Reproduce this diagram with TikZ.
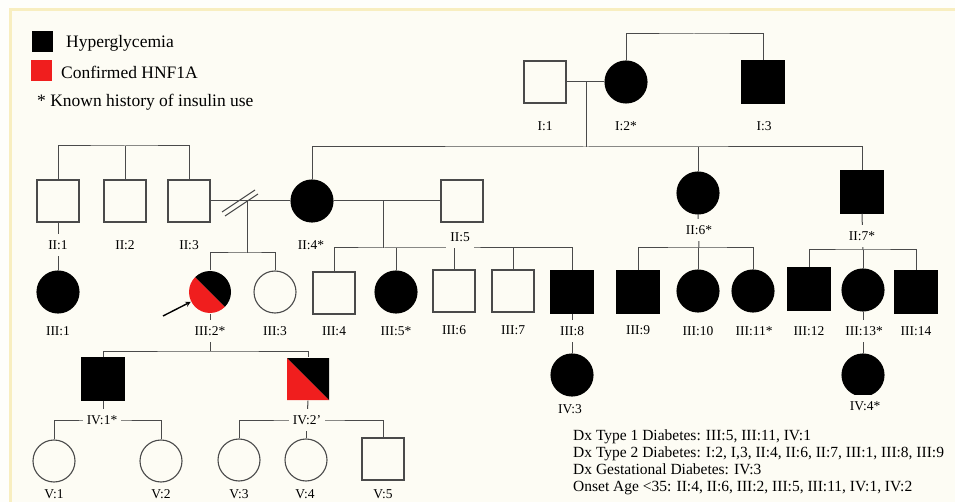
\documentclass[tikz,border=0pt]{standalone}
\usepackage{fontspec}
\setmainfont{Liberation Serif}
\usetikzlibrary{arrows, positioning, calc}
\definecolor{paper}{HTML}{FDFCF4}
\definecolor{rim}{HTML}{F8EEC0}
\definecolor{hnfred}{HTML}{F01E1E}
\definecolor{pedline}{HTML}{4A4A4A}

\begin{document}
\begin{tikzpicture}[x=1pt, y=-1pt,
        ind/.style={draw=pedline, line width=1.1pt, inner sep=0pt, minimum size=42pt, fill=paper},
        male/.style={ind, rectangle},
        female/.style={ind, circle},
        aff/.style={fill=black, draw=black},
        hnf/.style={draw=none, path picture={
            \fill[hnfred] (path picture bounding box.north west) -- (path picture bounding box.south west) -- (path picture bounding box.south east) -- cycle;
            \fill[black] (path picture bounding box.north west) -- (path picture bounding box.north east) -- (path picture bounding box.south east) -- cycle;}},
        link/.style={draw=pedline, line width=1pt},
        lab/.style={fill=paper, inner xsep=4pt, inner ysep=6pt, font=\fontsize{13.5}{16}\selectfont},
        legtext/.style={anchor=west, inner sep=0pt, font=\fontsize{17.5}{20}\selectfont}
    ]
        \useasboundingbox (0,0) rectangle (955,502);
        \clip (0,0) rectangle (955,502);
        \fill[white!60!paper] (0,0) rectangle (955,502);
        \fill[paper] (10,10) rectangle (955,502);
        \draw[rim, line width=3pt] (10,502) -- (10,10) -- (955,10);

        % key
        \node[minimum size=21pt, inner sep=0pt, fill=black] (keyhyp) at (42,42) {};
        \node[legtext] (txthyp) at (66,43) {Hyperglycemia};
        \node[minimum size=21pt, inner sep=0pt, fill=hnfred] (keyhnf) at (41,71) {};
        \node[legtext] (txthnf) at (61,72) {Confirmed HNF1A};
        \node[legtext] (txtins) at (37,102) {* Known history of insulin use};

        % generation I
        \node[male] (i1) at (545,82) {};
        \node[female, aff] (i2) at (626,82) {};
        \node[male, aff] (i3) at (763,82) {};

        % generation II
        \node[male] (ii1) at (58,201) {};
        \node[male] (ii2) at (125,201) {};
        \node[male] (ii3) at (189,201) {};
        \node[female, aff] (ii4) at (312,201) {};
        \node[male] (ii5) at (462,201) {};
        \node[female, aff] (ii6) at (698,193) {};
        \node[male, aff] (ii7) at (862,192) {};

        % generation III
        \node[female, aff] (iii1) at (58,292) {};
        \node[female, hnf] (iii2) at (210,292) {};
        \node[female] (iii3) at (275,292) {};
        \node[male] (iii4) at (334,293) {};
        \node[female, aff] (iii5) at (396,292) {};
        \node[male] (iii6) at (454,291) {};
        \node[male] (iii7) at (513,291) {};
        \node[male, aff] (iii8) at (572,292) {};
        \node[male, aff] (iii9) at (638,292) {};
        \node[female, aff] (iii10) at (698,291) {};
        \node[female, aff] (iii11) at (753,291) {};
        \node[male, aff] (iii12) at (809,289) {};
        \node[female, aff] (iii13) at (863,290) {};
        \node[male, aff] (iii14) at (916,292) {};

        % generation IV
        \node[male, aff] (iv1) at (103,379) {};
        \node[male, hnf] (iv2) at (308,379) {};
        \node[female, aff] (iv3) at (572,375) {};
        \node[female, aff] (iv4) at (863,375) {};

        % generation V
        \node[female] (v1) at (54,461) {};
        \node[female] (v2) at (161,461) {};
        \node[female] (v3) at (239,460) {};
        \node[female] (v4) at (306,460) {};
        \node[male] (v5) at (383,459) {};

        % junctions
        \coordinate (sibi) at (694,34);
        \coordinate (mi1) at (586,82);
        \coordinate (kidsi1) at (586,147);
        \coordinate (sibii) at (125,146);
        \coordinate (split) at (240,201);
        \coordinate (mii3) at (247,201);
        \coordinate (kidsii3) at (247,253);
        \coordinate (mii4) at (383,201);
        \coordinate (kidsii4) at (383,248);
        \coordinate (kidsii6) at (699,248);
        \coordinate (kidsii7) at (863,250);
        \coordinate (kidsiii2) at (210,351);
        \coordinate (kidsiv1) at (103,420);
        \coordinate (kidsiv2) at (307,420);
        \coordinate (pointer) at (163,316);

        \draw[link] (i2.north) |- (sibi) -| (i3.north);
        \draw[link] (i1.east) -- (i2.west);
        \draw[link] (mi1) -- (kidsi1);
        \draw[link] (ii4.north) |- (kidsi1) -| (ii7.north);
        \draw[link] (ii6.north) -- (ii6 |- kidsi1);

        \draw[link] (ii1.north) |- (sibii) -| (ii3.north);
        \draw[link] (ii2.north) -- (sibii);
        \draw[link] (ii1.south) -- (iii1.north);

        \draw[link] (ii3.east) -- (ii4.west);
        \draw[link] ([shift={(-18,11)}]split) -- ([shift={(15,-11)}]split);
        \draw[link] ([shift={(-15,15)}]split) -- ([shift={(18,-7)}]split);
        \draw[link] (mii3) -- (kidsii3);
        \draw[link] (iii2.north) |- (kidsii3) -| (iii3.north);

        \draw[link] (ii4.east) -- (ii5.west);
        \draw[link] (mii4) -- (kidsii4);
        \draw[link] (iii4.north) |- (kidsii4) -| (iii8.north);
        \foreach \k in {iii5, iii6, iii7}
            \draw[link] (\k.north) -- (\k |- kidsii4);

        \draw[link] (ii6.south) -- (kidsii6);
        \draw[link] (iii9.north) |- (kidsii6) -| (iii11.north);
        \draw[link] (iii10.north) -- (iii10 |- kidsii6);

        \draw[link] (ii7.south) -- (kidsii7);
        \draw[link] (iii12.north) |- (kidsii7) -| (iii14.north);
        \draw[link] (iii13.north) -- (iii13 |- kidsii7);

        \draw[link] (iii2.south) -- (kidsiii2);
        \draw[link] (iv1.north) |- (kidsiii2) -| (iv2.north);
        \draw[link] (iii8.south) -- (iv3.north);
        \draw[link] (iii13.south) -- (iv4.north);

        \draw[link] (iv1.south) -- (kidsiv1);
        \draw[link] (v1.north) |- (kidsiv1) -| (v2.north);
        \draw[link] (iv2.south) -- (kidsiv2);
        \draw[link] (v3.north) |- (kidsiv2) -| (v5.north);
        \draw[link] (v4.north) -- (v4 |- kidsiv2);

        \draw[->, >=stealth, line width=1.4pt] (pointer) -- (iii2);

        % labels
        \node[lab] (li1) at (545,126) {I:1};
        \node[lab] (li2) at (626,126) {I:2*};
        \node[lab] (li3) at (764,126) {I:3};
        \node[lab] (lii1) at (58,245) {II:1};
        \node[lab] (lii2) at (125,245) {II:2};
        \node[lab] (lii3) at (189,245) {II:3};
        \node[lab] (lii4) at (311,245) {II:4*};
        \node[lab] (lii5) at (460,237) {II:5};
        \node[lab] (lii6) at (699,230) {II:6*};
        \node[lab] (lii7) at (862,236) {II:7*};
        \node[lab] (liii1) at (58,331) {III:1};
        \node[lab] (liii2) at (210,331) {III:2*};
        \node[lab] (liii3) at (275,331) {III:3};
        \node[lab] (liii4) at (334,331) {III:4};
        \node[lab] (liii5) at (396,331) {III:5*};
        \node[lab] (liii6) at (454,330) {III:6};
        \node[lab] (liii7) at (513,330) {III:7};
        \node[lab] (liii8) at (572,331) {III:8};
        \node[lab] (liii9) at (638,330) {III:9};
        \node[lab] (liii10) at (698,331) {III:10};
        \node[lab] (liii11) at (754,331) {III:11*};
        \node[lab] (liii12) at (809,331) {III:12};
        \node[lab] (liii13) at (864,331) {III:13*};
        \node[lab] (liii14) at (916,331) {III:14};
        \node[lab] (liv1) at (102,420) {IV:1*};
        \node[lab] (liv2) at (307,420) {IV:2'};
        \node[lab] (liv3) at (570,409) {IV:3};
        \node[lab] (liv4) at (865,406) {IV:4*};
        \node[lab] (lv1) at (54,494) {V:1};
        \node[lab] (lv2) at (161,494) {V:2};
        \node[lab] (lv3) at (239,494) {V:3};
        \node[lab] (lv4) at (305,494) {V:4};
        \node[lab] (lv5) at (383,494) {V:5};

        \node[anchor=base west, align=left, inner sep=0pt, font=\fontsize{15.5}{16.7}\selectfont] (dxnotes) at (573,491) {Dx Type 1 Diabetes: III:5, III:11, IV:1\\Dx Type 2 Diabetes: I:2, I,3, II:4, II:6, II:7, III:1, III:8, III:9\\Dx Gestational Diabetes: IV:3\\Onset Age <35: II:4, II:6, III:2, III:5, III:11, IV:1, IV:2};
    \end{tikzpicture}
\end{document}
